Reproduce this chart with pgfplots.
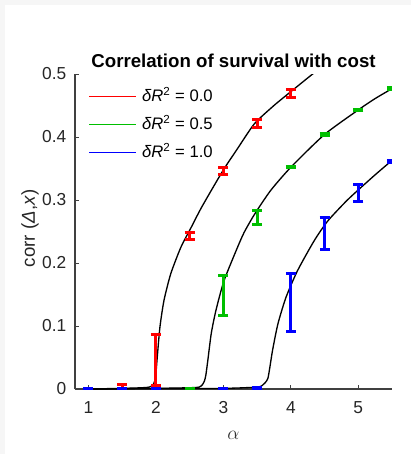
\documentclass[border=0pt]{standalone}
\usepackage{pgfplots}
\pgfplotsset{compat=1.18}
\usepackage{fontspec}
\setmainfont{Liberation Sans}
\definecolor{mred}{rgb}{1,0,0}
\definecolor{mgreen}{rgb}{0,0.75,0}
\definecolor{mblue}{rgb}{0,0,1}
\definecolor{axgray}{gray}{0.25}

\begin{document}
\begin{tikzpicture}
% page: 411 x 454 px at 0.75pt per px
\path[use as bounding box] (0,0) rectangle (308.25pt,340.5pt);
\fill[gray!7] (0,0) rectangle (308.25pt,340.5pt);
\fill[white] (3.75pt,0) rectangle (308.25pt,336.75pt);

\begin{axis}[at={(56.25pt,48.75pt)},anchor=south west,
  scale only axis,width=237.75pt,height=236.25pt,
  xmin=0.8,xmax=5.5,ymin=0,ymax=0.5,
  axis x line*=bottom,axis y line*=left,
  axis line style={axgray,line width=0.8pt},
  tick style={axgray,line width=0.6pt},
  tick align=inside,major tick length=3pt,
  xtick={1,2,3,4,5},
  ytick={0,0.1,0.2,0.3,0.4,0.5},
  yticklabels={0,0.1,0.2,0.3,0.4,0.5},
  /pgf/number format/assume math mode=true,
  tick label style={font=\fontsize{13}{15}\selectfont,black!85},
  yticklabel style={xshift=-3pt},
  xticklabel style={yshift=-6pt},
  title={Correlation of survival with cost},
  title style={font=\bfseries\fontsize{14}{16}\selectfont,inner sep=0pt,yshift=-1.5pt},
  xlabel={$\alpha$},
  xlabel style={at={(axis description cs:0.5,-0.146)},anchor=center,
    font=\fontsize{15}{17}\selectfont,black!80},
  ylabel={corr (\textit{Δ},\textit{x})},
  ylabel style={at={(axis description cs:-0.142,0.51)},anchor=center,
    font=\fontsize{14}{16}\selectfont,black!85},
  legend style={draw=none,fill=none,at={(axis description cs:0.03,0.965)},
    anchor=north west,row sep=8pt,
    font=\fontsize{12.5}{14}\selectfont,
    nodes={inner sep=1pt,text height=9pt,text depth=2pt}},
  legend cell align=left,
  legend image code/.code={\draw[line width=1pt] (0pt,0pt) -- (35pt,0pt);
    \path (38pt,0pt);},
  clip=true]

% fitted curves
\addplot[black,line width=1pt,smooth,tension=0.4,forget plot] coordinates {
  (1,0.000)(1.5,0.001)(1.8,0.002)(1.9,0.003)(1.947,0.005)(1.98,0.012)
  (2.0,0.025)(2.02,0.051)(2.06,0.099)(2.12,0.141)(2.22,0.183)(2.37,0.225)
  (2.52,0.256)(2.68,0.289)(2.99,0.346)(3.2,0.380)(3.46,0.421)(3.75,0.450)
  (4.0,0.472)(4.3,0.498)(4.4,0.506)};
\addplot[black,line width=1pt,smooth,tension=0.4,forget plot] coordinates {
  (1,0.000)(2,0.001)(2.5,0.002)(2.64,0.003)(2.69,0.007)(2.72,0.013)
  (2.74,0.022)(2.77,0.046)(2.82,0.088)(2.89,0.125)(3.01,0.172)(3.21,0.225)
  (3.31,0.249)(3.46,0.277)(3.7,0.315)(4.0,0.352)(4.5,0.404)(5.0,0.443)
  (5.25,0.461)(5.52,0.478)};
\addplot[black,line width=1pt,smooth,tension=0.4,forget plot] coordinates {
  (1,0.000)(2,0.0005)(3,0.001)(3.5,0.003)(3.58,0.006)(3.62,0.010)
  (3.66,0.017)(3.69,0.035)(3.73,0.062)(3.81,0.104)(3.93,0.146)(4.10,0.188)
  (4.35,0.236)(4.55,0.267)(4.82,0.298)(5.0,0.316)(5.25,0.340)(5.49,0.362)};

% error bars: delta R^2 = 0.0
\addplot[draw=none,mark=none,forget plot,
  error bars/.cd,y dir=both,y explicit,
  error bar style={draw=mred,line width=2.2pt},
  error mark options={rotate=90,draw=mred,line width=2.2pt,mark size=3.75pt}]
  coordinates {
  (1,0.001) +- (0,0.0005)
  (1.5,0.0045) +- (0,0.003)
  (2,0.046) +- (0,0.040)
  (2.5,0.243) +- (0,0.005)
  (3,0.346) +- (0,0.005)
  (3.5,0.4215) +- (0,0.0065)
  (4,0.469) +- (0,0.006)};
% delta R^2 = 0.5
\addplot[draw=none,mark=none,forget plot,
  error bars/.cd,y dir=both,y explicit,
  error bar style={draw=mgreen,line width=2.2pt},
  error mark options={rotate=90,draw=mgreen,line width=2.2pt,mark size=3.75pt}]
  coordinates {
  (2.5,0.001) +- (0,0.0005)
  (3,0.148) +- (0,0.032)
  (3.5,0.272) +- (0,0.011)
  (4,0.352) +- (0,0.001)
  (4.5,0.404) +- (0,0.001)
  (5,0.443) +- (0,0.001)
  (5.5,0.477) +- (0,0.001)};
% delta R^2 = 1.0
\addplot[draw=none,mark=none,forget plot,
  error bars/.cd,y dir=both,y explicit,
  error bar style={draw=mblue,line width=2.2pt},
  error mark options={rotate=90,draw=mblue,line width=2.2pt,mark size=3.75pt}]
  coordinates {
  (1,0.001) +- (0,0.0005)
  (1.5,0.001) +- (0,0.0005)
  (2,0.001) +- (0,0.0005)
  (3,0.0005) +- (0,0.0005)
  (3.5,0.002) +- (0,0.001)
  (4,0.137) +- (0,0.046)
  (4.5,0.247) +- (0,0.025)
  (5,0.311) +- (0,0.013)
  (5.5,0.361) +- (0,0.001)};

\addlegendimage{draw=mred,line width=1pt}
\addlegendimage{draw=mgreen,line width=1pt}
\addlegendimage{draw=mblue,line width=1pt}
\legend{\textit{δR}\textsuperscript{2} = 0.0,
  \textit{δR}\textsuperscript{2} = 0.5,
  \textit{δR}\textsuperscript{2} = 1.0}
\end{axis}
\end{tikzpicture}
\end{document}
